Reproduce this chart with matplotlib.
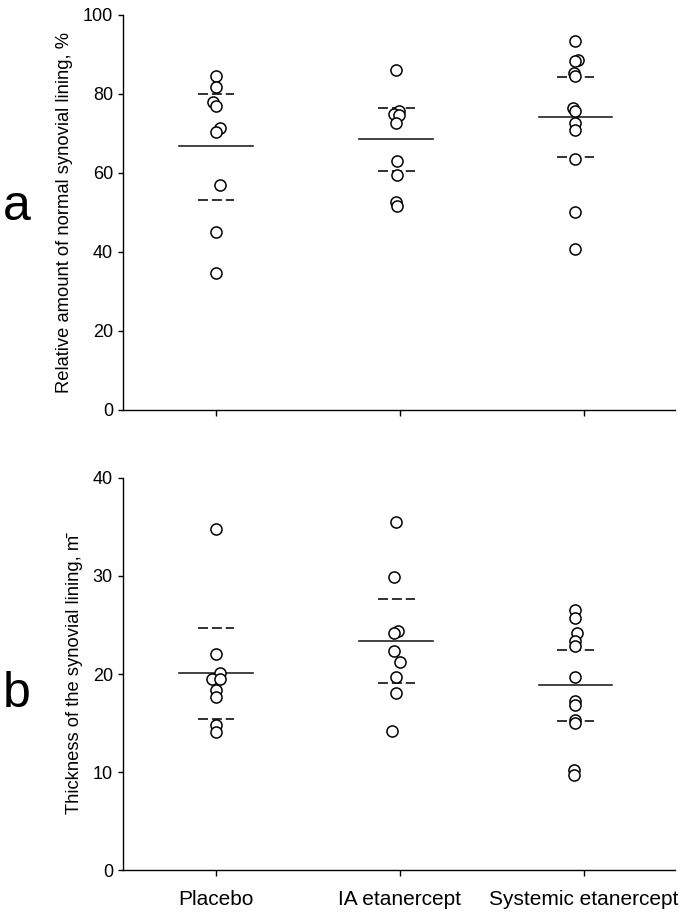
import numpy as np
import matplotlib
matplotlib.use("Agg")
import matplotlib.pyplot as plt

plt.rcParams['font.family'] = ['Liberation Sans', 'DejaVu Sans']
plt.rcParams['lines.scale_dashes'] = False

# ----- data -----
groups = ["Placebo", "IA etanercept", "Systemic etanercept"]

# panel a: relative amount of normal synovial lining (%)
a_placebo = [84.4, 81.6, 77.8, 77.0, 71.3, 70.4, 57.0, 45.1, 34.6]
a_ia = [86.0, 75.7, 74.9, 74.7, 72.6, 63.0, 59.5, 52.6, 51.5]
a_sys = [93.4, 88.6, 88.2, 85.2, 84.4, 76.5, 75.7, 72.6, 70.7, 63.6, 50.0, 40.6]
a_mean = [66.7, 68.5, 74.1]
a_upper = [79.8, 76.5, 84.3]
a_lower = [53.2, 60.4, 63.9]

# panel b: thickness of synovial lining
b_placebo = [34.8, 22.0, 20.1, 19.5, 19.5, 18.4, 17.7, 14.8, 14.1]
b_ia = [35.5, 29.9, 24.4, 24.2, 22.3, 21.2, 19.7, 18.1, 14.2]
b_sys = [26.5, 25.7, 24.2, 23.4, 22.9, 19.7, 17.2, 16.8, 15.3, 15.0, 10.2, 9.7]
b_mean = [20.1, 23.4, 18.9]
b_upper = [24.7, 27.7, 22.5]
b_lower = [15.4, 19.1, 15.2]

# small horizontal offsets so overlapping circles stay visible
a_jit = [[0, 0, -0.018, 0, 0.022, 0, 0.022, 0, 0],
         [0, 0.013, -0.013, 0.016, 0, 0.005, 0.005, 0, 0.005],
         [0, 0.013, 0, -0.009, 0, -0.013, 0, 0, 0, 0, 0, 0]]
b_jit = [[0, 0, 0.022, -0.02, 0.022, 0, 0, 0, 0],
         [0, -0.01, 0.01, -0.01, -0.01, 0.022, 0, 0, -0.02],
         [0, 0, 0.011, 0, 0, 0, 0, 0, 0, 0, -0.008, -0.008]]
centers = [0, 0.98, 1.955]

fig = plt.figure(figsize=(6.85, 9.13), dpi=100)
ax_a = fig.add_axes([0.18, 0.551, 0.806, 0.433])
ax_b = fig.add_axes([0.18, 0.047, 0.806, 0.4295])


def draw_panel(ax, series, jit, means, upper, lower, ymax, step, ylabel):
    for i, vals in enumerate(series):
        x = [centers[i] + j for j in jit[i]]
        ax.plot(x, vals, 'o', ms=8, mfc='white', mec='black', mew=1.1,
                ls='none', zorder=3)
        c = centers[i]
        ax.plot([c - 0.2, c + 0.2], [means[i], means[i]], color='#222222',
                lw=1.2, zorder=2)
        for v in (upper[i], lower[i]):
            ax.plot([c - 0.1, c + 0.1], [v, v], color='#222222', lw=1.3,
                    dashes=(7.2, 2.8), zorder=2)
    ax.set_xlim(-0.505, 2.5)
    ax.set_ylim(0, ymax)
    ax.set_yticks(np.arange(0, ymax + 1, step))
    ax.spines['top'].set_visible(False)
    ax.spines['right'].set_visible(False)
    for s in ('left', 'bottom'):
        ax.spines[s].set_linewidth(1.0)
    ax.tick_params(axis='y', direction='out', length=3.5, width=1.0,
                   labelsize=13, pad=4)
    ax.tick_params(axis='x', direction='out', length=4, width=1.0,
                   labelsize=15, pad=10)
    ax.set_xticks([0, 1, 2])
    ax.set_ylabel(ylabel, fontsize=13.2, labelpad=7)


draw_panel(ax_a, [a_placebo, a_ia, a_sys], a_jit, a_mean, a_upper, a_lower,
           100, 20, "Relative amount of normal synovial lining, %")
ax_a.set_xticklabels([])

draw_panel(ax_b, [b_placebo, b_ia, b_sys], b_jit, b_mean, b_upper, b_lower,
           40, 10, "Thickness of the synovial lining, m\u0304")
ax_b.set_xticklabels(groups)

fig.text(0.024, 0.759, "a", fontsize=36, ha='center', va='baseline')
fig.text(0.024, 0.2256, "b", fontsize=36, ha='center', va='baseline')

fig.savefig("out.png", dpi=100)
